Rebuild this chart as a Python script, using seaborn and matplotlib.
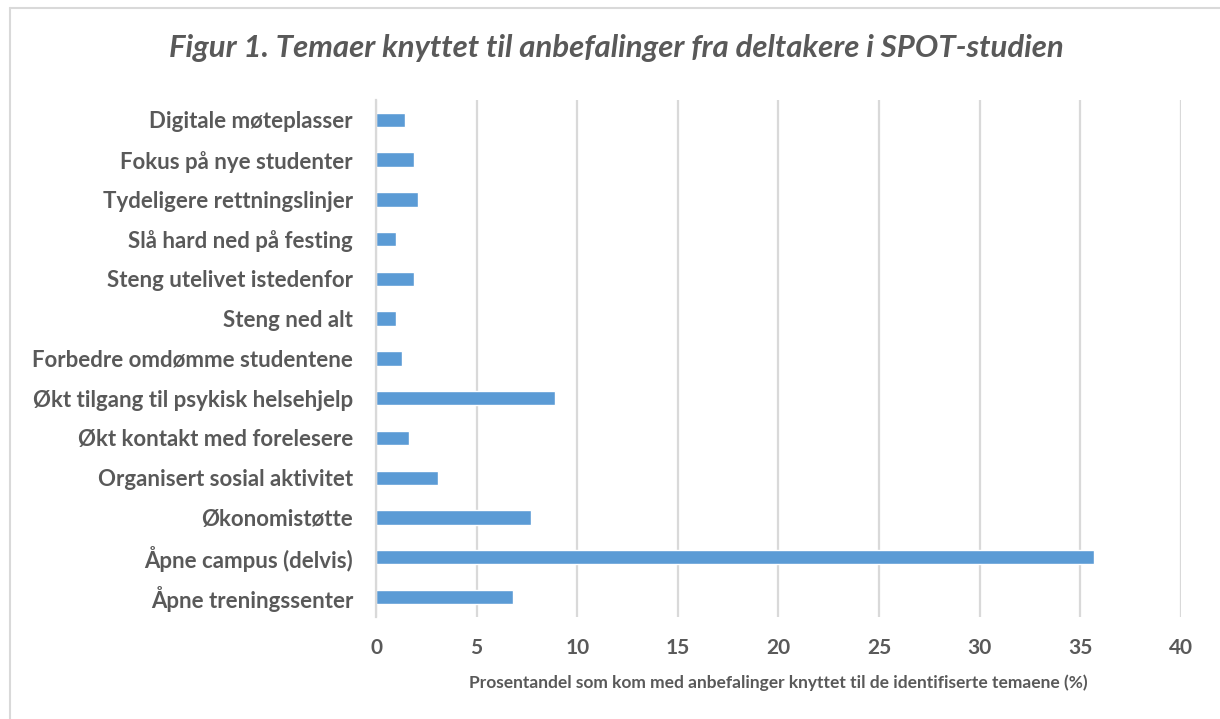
import matplotlib
matplotlib.use("Agg")
import matplotlib.pyplot as plt
import seaborn as sns
import pandas as pd

categories = [
    "Digitale møteplasser",
    "Fokus på nye studenter",
    "Tydeligere rettningslinjer",
    "Slå hard ned på festing",
    "Steng utelivet istedenfor",
    "Steng ned alt",
    "Forbedre omdømme studentene",
    "Økt tilgang til psykisk helsehjelp",
    "Økt kontakt med forelesere",
    "Organisert sosial aktivitet",
    "Økonomistøtte",
    "Åpne campus (delvis)",
    "Åpne treningssenter",
]
values = [1.45, 1.9, 2.1, 1.0, 1.9, 1.0, 1.3, 8.9, 1.65, 3.1, 7.7, 35.7, 6.8]
xticks = [0, 5, 10, 15, 20, 25, 30, 35, 40]

df = pd.DataFrame({"cat": categories, "val": values})

sns.set_style("white")
plt.rcParams["font.family"] = ["Lato", "DejaVu Sans"]

fig = plt.figure(figsize=(12.2, 7.19), dpi=100)
ax = fig.add_axes([0.3082, 0.142, 0.968 - 0.3082, 0.861 - 0.142])

sns.barplot(data=df, y="cat", x="val", color="#5B9BD5", saturation=1,
            width=0.36, orient="h", ax=ax)

ax.set_xlim(0, 40)
ax.set_ylim(len(categories) - 0.5, -0.5)
ax.set_xticks(xticks)
ax.set_xticklabels([str(t) for t in xticks], fontsize=15, fontweight="bold", color="#595959")
ax.tick_params(axis="x", length=0, pad=15)
ax.tick_params(axis="y", length=0, pad=16.5)
for lbl in ax.get_yticklabels():
    lbl.set_fontsize(16)
    lbl.set_fontweight("bold")
    lbl.set_color("#595959")

ax.grid(axis="x", color="#D9D9D9", linewidth=1.6)
ax.set_axisbelow(True)
for s in ["top", "right", "bottom"]:
    ax.spines[s].set_visible(False)
ax.spines["left"].set_color("#D9D9D9")
ax.spines["left"].set_linewidth(1.6)

ax.set_ylabel("")
ax.set_xlabel("Prosentandel som kom med anbefalinger knyttet til de identifiserte temaene (%)",
              fontsize=12.5, fontweight="bold", color="#595959", labelpad=12)

fig.text(0.505, 0.933, "Figur 1. Temaer knyttet til anbefalinger fra deltakere i SPOT-studien",
         ha="center", va="center", fontsize=22.4, fontstyle="italic", fontweight="bold",
         color="#595959")

# chart border (left and top visible)
fig.add_artist(plt.Line2D([10/1220, 10/1220], [0, 1 - 8/719], color="#D9D9D9", lw=1.5))
fig.add_artist(plt.Line2D([10/1220, 1], [1 - 8/719, 1 - 8/719], color="#D9D9D9", lw=1.5))

fig.savefig("out.png", dpi=100, facecolor="white")
